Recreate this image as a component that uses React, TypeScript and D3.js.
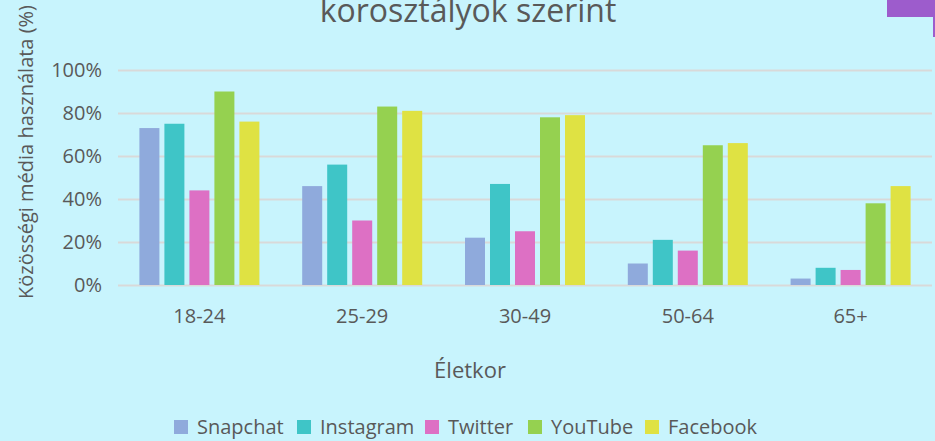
import { useEffect, useRef } from "react";
import * as d3 from "d3";

const ageGroups = ["18-24", "25-29", "30-49", "50-64", "65+"];
const platforms = ["Snapchat", "Instagram", "Twitter", "YouTube", "Facebook"];
const snapchat = [73, 46, 22, 10, 3];
const instagram = [75, 56, 47, 21, 8];
const twitter = [44, 30, 25, 16, 7];
const youtube = [90, 83, 78, 65, 38];
const facebook = [76, 81, 79, 66, 46];
const yTicks = [0, 20, 40, 60, 80, 100];
const colors = ["#8faadc", "#3fc5c7", "#dd70c4", "#95d150", "#dfe243"];

const WIDTH = 935;
const HEIGHT = 441;
const FONT = "'Open Sans', sans-serif";
const TEXT = "#595959";

export default function App() {
  const svgRef = useRef<SVGSVGElement>(null);

  useEffect(() => {
    if (!svgRef.current) return;
    const series = [snapchat, instagram, twitter, youtube, facebook];
    const margin = { top: 70, right: 3, bottom: 156, left: 118 };
    const innerWidth = WIDTH - margin.left - margin.right;
    const innerHeight = HEIGHT - margin.top - margin.bottom;

    d3.select(svgRef.current).selectAll("*").remove();
    const svg = d3.select(svgRef.current);

    svg
      .append("rect")
      .attr("width", WIDTH)
      .attr("height", HEIGHT)
      .attr("fill", "#c8f4fd");

    // purple corner shape
    svg.append("rect").attr("x", 887).attr("y", 0).attr("width", 48).attr("height", 17).attr("fill", "#9d5ccc");
    svg.append("rect").attr("x", 933).attr("y", 0).attr("width", 2).attr("height", 37).attr("fill", "#9d5ccc");

    // title (first line is cut off above the frame)
    svg
      .append("text")
      .attr("x", 468)
      .attr("y", 22)
      .attr("text-anchor", "middle")
      .attr("font-family", FONT)
      .attr("font-size", 32)
      .attr("fill", TEXT)
      .text("korosztályok szerint");

    const x = d3.scaleBand().domain(ageGroups).range([0, innerWidth]);
    const inner = d3
      .scaleBand()
      .domain(platforms)
      .range([x.bandwidth() / 2 - 62.5, x.bandwidth() / 2 + 62.5])
      .paddingInner(0.2)
      .paddingOuter(0.1);
    const y = d3.scaleLinear().domain([0, 100]).range([innerHeight, 0]);

    const g = svg
      .append("g")
      .attr("transform", `translate(${margin.left},${margin.top})`);

    // grid
    g.append("g")
      .call(
        d3
          .axisLeft(y)
          .tickValues(yTicks)
          .tickSize(-innerWidth)
          .tickFormat(() => "")
      )
      .call((sel) => sel.select(".domain").remove())
      .call((sel) =>
        sel.selectAll(".tick line").attr("stroke", "#d9d9d9").attr("stroke-width", 2)
      );

    // y labels
    g.append("g")
      .selectAll("text")
      .data(yTicks)
      .enter()
      .append("text")
      .attr("x", -16)
      .attr("y", (d) => y(d))
      .attr("dy", "0.36em")
      .attr("text-anchor", "end")
      .attr("font-family", FONT)
      .attr("font-size", 20)
      .attr("fill", TEXT)
      .text((d) => `${d}%`);

    // bars
    ageGroups.forEach((age, i) => {
      const grp = g.append("g").attr("transform", `translate(${x(age)},0)`);
      platforms.forEach((p, j) => {
        const v = series[j][i];
        grp
          .append("rect")
          .attr("x", inner(p)!)
          .attr("y", y(v))
          .attr("width", inner.bandwidth())
          .attr("height", innerHeight - y(v))
          .attr("fill", colors[j]);
      });
    });

    // x labels
    g.append("g")
      .selectAll("text")
      .data(ageGroups)
      .enter()
      .append("text")
      .attr("x", (d) => x(d)! + x.bandwidth() / 2)
      .attr("y", innerHeight + 38)
      .attr("text-anchor", "middle")
      .attr("font-family", FONT)
      .attr("font-size", 20)
      .attr("fill", TEXT)
      .text((d) => d);

    // axis titles
    svg
      .append("text")
      .attr("x", 470)
      .attr("y", 378)
      .attr("text-anchor", "middle")
      .attr("font-family", FONT)
      .attr("font-size", 22)
      .attr("fill", TEXT)
      .text("Életkor");

    svg
      .append("text")
      .attr("transform", `translate(33,152) rotate(-90)`)
      .attr("text-anchor", "middle")
      .attr("font-family", FONT)
      .attr("font-size", 20)
      .attr("fill", TEXT)
      .text("Közösségi média használata (%)");

    // legend
    const legendX = [174, 297, 425, 528, 645];
    const legend = svg.append("g").attr("transform", "translate(0,420)");
    platforms.forEach((p, i) => {
      const item = legend.append("g").attr("transform", `translate(${legendX[i]},0)`);
      item.append("rect").attr("width", 14).attr("height", 14).attr("fill", colors[i]);
      item
        .append("text")
        .attr("x", 23)
        .attr("y", 14)
        .attr("font-family", FONT)
        .attr("font-size", 20)
        .attr("fill", TEXT)
        .text(p);
    });
  }, []);

  return (
    <svg
      ref={svgRef}
      width={WIDTH}
      height={HEIGHT}
      style={{ position: "absolute", left: 0, top: 0, display: "block" }}
    />
  );
}
